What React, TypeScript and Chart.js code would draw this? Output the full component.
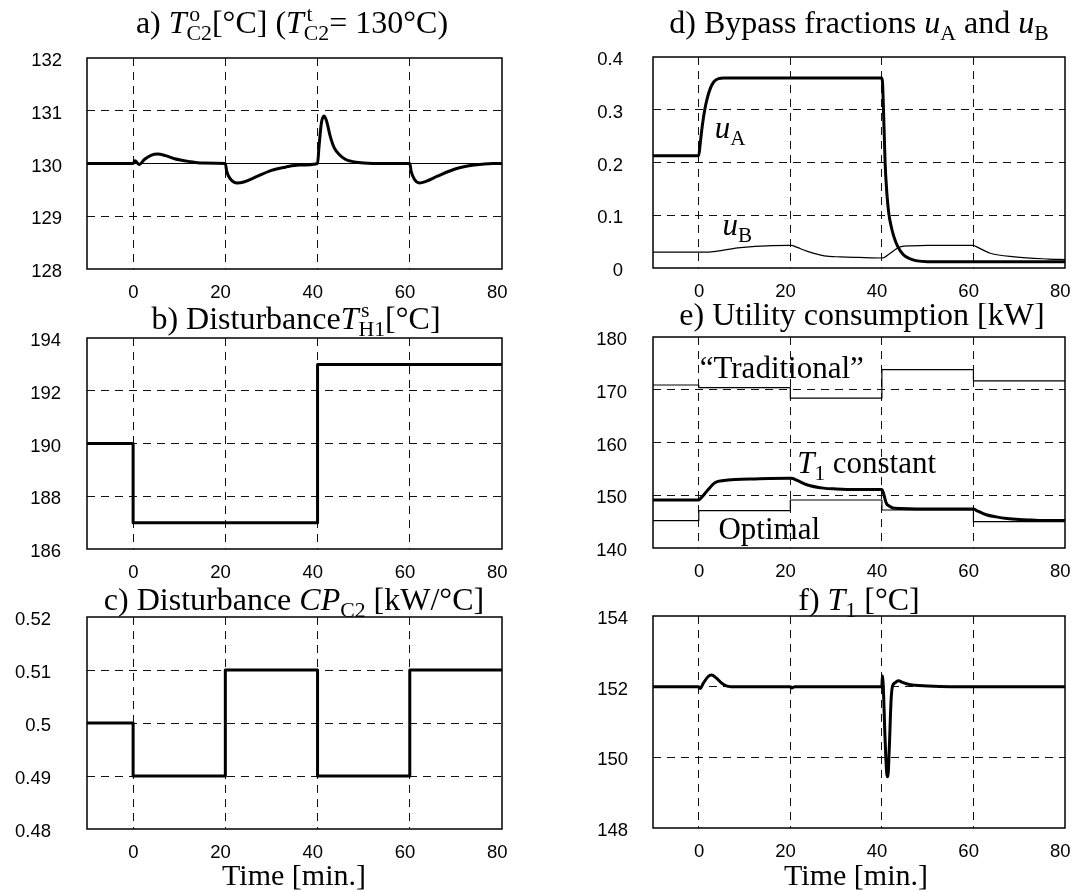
import React, { useEffect, useRef } from "react";
import { Chart, registerables } from "chart.js";

Chart.register(...registerables);

// ---------- shared axis data ----------
const timeMin = -10;
const timeMax = 80;
const timeTicks = [0, 20, 40, 60, 80];

// ---------- a) outlet temperature T°C2 ----------
const aTicks = [128, 129, 130, 131, 132];
const aSetpoint = 130;
const aTime = [-10, 0, 0.4, 1.3, 2.5, 4, 5.3, 7, 9, 12, 15, 20, 20.3, 21, 22.6, 24, 26.5, 30, 33, 36, 40, 40.3, 40.8, 41.4, 41.9, 42.8, 43.6, 44.7, 46, 48, 50, 55, 60, 60.3, 61, 62.1, 63.5, 66, 70, 74, 78, 80];
const aTemp = [130, 130, 130.05, 129.98, 130.08, 130.16, 130.18, 130.15, 130.09, 130.04, 130.01, 130, 129.85, 129.72, 129.63, 129.65, 129.74, 129.87, 129.93, 129.97, 130, 130.3, 130.75, 130.9, 130.82, 130.5, 130.3, 130.17, 130.08, 130.03, 130.01, 130, 130, 129.85, 129.7, 129.63, 129.66, 129.76, 129.9, 129.97, 130, 130];

// ---------- b) disturbance TsH1 ----------
const bTicks = [186, 188, 190, 192, 194];
const bTime = [-10, 0, 40, 80];
const bValue = [190, 187, 193, 193];

// ---------- c) disturbance CPC2 ----------
const cTicks = [0.48, 0.49, 0.5, 0.51, 0.52];
const cTime = [-10, 0, 20, 40, 60, 80];
const cValue = [0.5, 0.49, 0.51, 0.49, 0.51, 0.51];

// ---------- d) bypass fractions ----------
const dTicks = [0, 0.1, 0.2, 0.3, 0.4];
const uATime = [-10, 0, 0.3, 0.7, 1.2, 1.8, 2.5, 3.3, 4.3, 5.5, 40, 40.15, 40.35, 40.7, 41.1, 41.5, 42.0, 42.6, 43.5, 44.7, 46, 47.7, 50, 80];
const uAValue = [0.213, 0.213, 0.235, 0.265, 0.295, 0.32, 0.34, 0.353, 0.359, 0.36, 0.36, 0.35, 0.3, 0.2, 0.14, 0.104, 0.08, 0.06, 0.04, 0.025, 0.018, 0.0135, 0.012, 0.012];
const uBTime = [-10, 0, 1, 3.2, 8.5, 12.3, 19.8, 20.2, 21.5, 23.6, 27.4, 31, 34.9, 40, 40.5, 41.8, 44.0, 46.3, 50, 60, 60.5, 63.7, 69, 76.5, 80];
const uBValue = [0.03, 0.03, 0.03, 0.031, 0.038, 0.041, 0.043, 0.043, 0.039, 0.032, 0.023, 0.021, 0.02, 0.019, 0.02, 0.028, 0.04, 0.042, 0.043, 0.043, 0.041, 0.028, 0.021, 0.017, 0.016];

// ---------- e) utility consumption ----------
const eTicks = [140, 150, 160, 170, 180];
const eStepTime = [-10, 0, 20, 40, 60, 80];
const traditionalValue = [170.9, 170.4, 168.4, 173.8, 171.7, 171.7];
const optimalValue = [145.2, 147.1, 149.1, 147.2, 145.0, 145.0];
const t1ConstTime = [-10, 0, 0.5, 1.7, 3.6, 5.5, 8, 12.3, 19.8, 20.2, 21.5, 23.6, 27.2, 30, 34.5, 40, 40.3, 41.0, 41.5, 42.4, 44.1, 50, 60, 60.5, 62.8, 65, 67.3, 70, 72.6, 76, 80];
const t1ConstValue = [149.1, 149.1, 149.5, 150.7, 152.4, 152.8, 153.0, 153.1, 153.2, 153.2, 152.8, 152.0, 151.35, 151.2, 151.1, 151.1, 150.5, 148.4, 148.0, 147.6, 147.5, 147.4, 147.4, 147.2, 146.3, 145.9, 145.6, 145.4, 145.3, 145.2, 145.2];

// ---------- f) T1 ----------
const fTicks = [148, 150, 152, 154];
const fTime = [-10, 0, 0.3, 1, 2, 2.8, 3.8, 5, 6, 7, 20, 20.3, 21, 40, 40.1, 40.3, 40.7, 41.1, 41.3, 41.6, 42.0, 42.3, 43.0, 43.6, 44.5, 46, 50, 55, 80];
const fValue = [152, 152, 151.95, 152.1, 152.28, 152.33, 152.25, 152.1, 152.02, 152, 152, 151.96, 152, 152, 152.3, 152.0, 150.5, 149.5, 149.45, 150.2, 151.6, 152.0, 152.12, 152.17, 152.12, 152.06, 152.02, 152, 152];

// ---------- text helpers ----------
type Seg = { t: string; it?: boolean; sub?: boolean; sup?: boolean; keep?: boolean };
const SERIF = '"Liberation Serif", "Times New Roman", Times, serif';
const SANS = '"Liberation Sans", Arial, Helvetica, sans-serif';

function segFont(s: Seg, size: number) {
  const sz = s.sub || s.sup ? size * 0.68 : size;
  return `${s.it ? "italic " : ""}${sz}px ${SERIF}`;
}
function richWidth(ctx: CanvasRenderingContext2D, segs: Seg[], size: number) {
  let w = 0;
  for (const s of segs) {
    ctx.font = segFont(s, size);
    if (!s.keep) w += ctx.measureText(s.t).width;
  }
  return w;
}
function drawRich(ctx: CanvasRenderingContext2D, segs: Seg[], x: number, y: number, size: number, align: "left" | "center") {
  const w = richWidth(ctx, segs, size);
  let cx = align === "center" ? x - w / 2 : x;
  ctx.save();
  ctx.fillStyle = "#000";
  ctx.textAlign = "left";
  ctx.textBaseline = "alphabetic";
  for (const s of segs) {
    ctx.font = segFont(s, size);
    const dy = s.sub ? size * 0.22 : s.sup ? -size * 0.36 : 0;
    const dx = s.sup ? size * 0.08 : 0;
    ctx.fillText(s.t, cx + dx, y + dy);
    if (!s.keep) cx += ctx.measureText(s.t).width;
  }
  ctx.restore();
}

// ---------- panel specs ----------
type Series = { x: number[]; y: number[]; width: number; stepped?: boolean };
type Note = { segs: Seg[]; x: number; y: number };
type Panel = {
  id: string;
  canvas: { left: number; top: number; width: number; height: number };
  plot: { left: number; top: number; right: number; bottom: number };
  yMin: number; yMax: number; yTicks: number[]; yPad: number;
  series: Series[];
  title: Seg[]; titleX: number; titleY: number;
  notes?: Note[];
  timeLabel?: { x: number; y: number };
};

const THICK = 3;
const THIN = 1.2;

const panels: Panel[] = [
  {
    id: "a",
    canvas: { left: 0, top: 0, width: 530, height: 303 },
    plot: { left: 87, top: 58, right: 502, bottom: 269 },
    yMin: 128, yMax: 132, yTicks: aTicks, yPad: 25,
    series: [
      { x: [timeMin, timeMax], y: [aSetpoint, aSetpoint], width: 1 },
      { x: aTime, y: aTemp, width: THICK },
    ],
    title: [{ t: "a) " }, { t: "T", it: true }, { t: "o", sup: true, keep: true }, { t: "C2", sub: true }, { t: "[°C] (" }, { t: "T", it: true }, { t: "t", sup: true, keep: true }, { t: "C2", sub: true }, { t: "= 130°C)" }],
    titleX: 292, titleY: 33,
  },
  {
    id: "b",
    canvas: { left: 0, top: 303, width: 530, height: 282 },
    plot: { left: 87, top: 338, right: 502, bottom: 549 },
    yMin: 186, yMax: 194, yTicks: bTicks, yPad: 26,
    series: [{ x: bTime, y: bValue, width: THICK, stepped: true }],
    title: [{ t: "b) Disturbance" }, { t: "T", it: true }, { t: "s", sup: true, keep: true }, { t: "H1", sub: true }, { t: "[°C]" }],
    titleX: 296, titleY: 329,
  },
  {
    id: "c",
    canvas: { left: 0, top: 585, width: 530, height: 307 },
    plot: { left: 87, top: 617, right: 502, bottom: 829 },
    yMin: 0.48, yMax: 0.52, yTicks: cTicks, yPad: 36,
    series: [{ x: cTime, y: cValue, width: THICK, stepped: true }],
    title: [{ t: "c) Disturbance " }, { t: "CP", it: true }, { t: "C2", sub: true }, { t: " [kW/°C]" }],
    titleX: 294, titleY: 610,
    timeLabel: { x: 294, y: 885 },
  },
  {
    id: "d",
    canvas: { left: 530, top: 0, width: 541, height: 303 },
    plot: { left: 653, top: 57, right: 1065, bottom: 268 },
    yMin: 0, yMax: 0.4, yTicks: dTicks, yPad: 30,
    series: [
      { x: uBTime, y: uBValue, width: THIN },
      { x: uATime, y: uAValue, width: THICK },
    ],
    title: [{ t: "d) Bypass fractions " }, { t: "u", it: true }, { t: "A", sub: true }, { t: " and " }, { t: "u", it: true }, { t: "B", sub: true }],
    titleX: 859, titleY: 33,
    notes: [
      { segs: [{ t: "u", it: true }, { t: "A", sub: true }], x: 3.5, y: 0.246 },
      { segs: [{ t: "u", it: true }, { t: "B", sub: true }], x: 5.2, y: 0.063 },
    ],
  },
  {
    id: "e",
    canvas: { left: 530, top: 303, width: 541, height: 282 },
    plot: { left: 653, top: 337, right: 1065, bottom: 548 },
    yMin: 140, yMax: 180, yTicks: eTicks, yPad: 26,
    series: [
      { x: eStepTime, y: traditionalValue, width: THIN, stepped: true },
      { x: eStepTime, y: optimalValue, width: THIN, stepped: true },
      { x: t1ConstTime, y: t1ConstValue, width: THICK },
    ],
    title: [{ t: "e) Utility consumption [kW]" }],
    titleX: 862, titleY: 325,
    notes: [
      { segs: [{ t: "\u201CTraditional\u201D" }], x: 0.2, y: 172.2 },
      { segs: [{ t: "T", it: true }, { t: "1", sub: true }, { t: " constant" }], x: 21.5, y: 154.2 },
      { segs: [{ t: "Optimal" }], x: 4.3, y: 141.8 },
    ],
  },
  {
    id: "f",
    canvas: { left: 530, top: 585, width: 541, height: 307 },
    plot: { left: 653, top: 616, right: 1065, bottom: 828 },
    yMin: 148, yMax: 154, yTicks: fTicks, yPad: 25,
    series: [{ x: fTime, y: fValue, width: THICK }],
    title: [{ t: "f) " }, { t: "T", it: true }, { t: "1", sub: true }, { t: " [°C]" }],
    titleX: 859, titleY: 610,
    timeLabel: { x: 856, y: 885 },
  },
];

const TITLE_SIZE = 32;
const NOTE_SIZE = 31;
const TIME_SIZE = 30;
const TICK_SIZE = 18.5;

function makeConfig(p: Panel): any {
  const c = p.canvas;
  const padTop = p.plot.top - c.top;
  const padRight = c.left + c.width - p.plot.right;
  const yWidth = p.plot.left - c.left;
  const xHeight = c.top + c.height - p.plot.bottom;

  const gridColor = (ctx: any) => {
    const v = ctx.tick ? ctx.tick.value : null;
    if (v === null) return "rgba(0,0,0,0)";
    const s = ctx.scale;
    if (Math.abs(v - s.min) < 1e-9 || Math.abs(v - s.max) < 1e-9) return "rgba(0,0,0,0)";
    return "#111";
  };

  const textPlugin = {
    id: "panelText" + p.id,
    afterDraw(chart: any) {
      const ctx: CanvasRenderingContext2D = chart.ctx;
      const a = chart.chartArea;
      ctx.save();
      ctx.strokeStyle = "#000";
      ctx.lineWidth = 1.5;
      ctx.setLineDash([]);
      ctx.strokeRect(a.left, a.top, a.right - a.left, a.bottom - a.top);
      ctx.restore();
      drawRich(ctx, p.title, p.titleX - c.left, p.titleY - c.top, TITLE_SIZE, "center");
      const xs = chart.scales.x;
      const ys = chart.scales.y;
      (p.notes || []).forEach((n) => {
        drawRich(ctx, n.segs, xs.getPixelForValue(n.x), ys.getPixelForValue(n.y), NOTE_SIZE, "left");
      });
      if (p.timeLabel) {
        drawRich(ctx, [{ t: "Time [min.]" }], p.timeLabel.x - c.left, p.timeLabel.y - c.top, TIME_SIZE, "center");
      }
    },
  };

  return {
    type: "line",
    data: {
      datasets: p.series.map((s) => ({
        data: s.x.map((x, i) => ({ x, y: s.y[i] })),
        borderColor: "#000",
        backgroundColor: "#000",
        borderWidth: s.width,
        pointRadius: 0,
        fill: false,
        stepped: s.stepped ? "before" : false,
        cubicInterpolationMode: "monotone",
        borderJoinStyle: "round",
      })),
    },
    options: {
      animation: false,
      responsive: false,
      maintainAspectRatio: false,
      devicePixelRatio: 1,
      events: [],
      layout: { padding: { left: 0, top: padTop, right: padRight, bottom: 0 } },
      plugins: { legend: { display: false }, tooltip: { enabled: false }, title: { display: false } },
      scales: {
        x: {
          type: "linear",
          min: timeMin,
          max: timeMax,
          afterBuildTicks: (s: any) => { s.ticks = timeTicks.map((v) => ({ value: v })); },
          afterFit: (s: any) => { s.height = xHeight; s.paddingLeft = 0; s.paddingRight = 0; },
          grid: { color: gridColor, lineWidth: 1, drawTicks: false },
          border: { display: false, dash: [8, 6] },
          ticks: {
            color: "#000",
            font: { family: SANS, size: TICK_SIZE },
            padding: 13,
            align: "end",
            labelOffset: 5.5,
            maxRotation: 0,
            minRotation: 0,
            autoSkip: false,
            callback: (v: any) => String(v),
          },
        },
        y: {
          type: "linear",
          min: p.yMin,
          max: p.yMax,
          afterBuildTicks: (s: any) => { s.ticks = p.yTicks.map((v) => ({ value: v })); },
          afterFit: (s: any) => { s.width = yWidth; s.paddingTop = 0; s.paddingBottom = 0; },
          grid: { color: gridColor, lineWidth: 1, drawTicks: false },
          border: { display: false, dash: [8, 6] },
          ticks: {
            color: "#000",
            font: { family: SANS, size: TICK_SIZE },
            padding: p.yPad,
            labelOffset: 3,
            autoSkip: false,
            callback: (v: any) => String(v),
          },
        },
      },
    },
    plugins: [textPlugin],
  };
}

function PanelChart({ p }: { p: Panel }) {
  const ref = useRef<HTMLCanvasElement | null>(null);
  useEffect(() => {
    if (!ref.current) return;
    const chart = new Chart(ref.current, makeConfig(p));
    return () => chart.destroy();
  }, []);
  return (
    <canvas
      ref={ref}
      width={p.canvas.width}
      height={p.canvas.height}
      style={{
        position: "absolute",
        left: p.canvas.left,
        top: p.canvas.top,
        width: p.canvas.width,
        height: p.canvas.height,
      }}
    />
  );
}

export default function App() {
  return (
    <div style={{ position: "absolute", left: 0, top: 0, width: 1071, height: 892, background: "#fff", overflow: "hidden" }}>
      {panels.map((p) => (
        <PanelChart key={p.id} p={p} />
      ))}
    </div>
  );
}
